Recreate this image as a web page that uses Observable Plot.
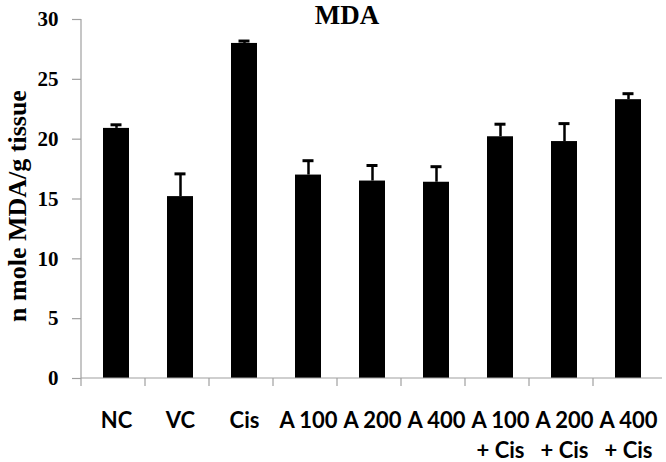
<!DOCTYPE html>
<html><head><meta charset="utf-8">
<script src="https://cdn.jsdelivr.net/npm/d3@7"></script>
<script src="https://cdn.jsdelivr.net/npm/@observablehq/plot@0.6"></script>
<style>body{margin:0;background:#fff}</style>
</head><body><div id="chart"></div>
<script>
const categories = ["NC","VC","Cis","A 100","A 200","A 400","A 100\n+ Cis","A 200\n+ Cis","A 400\n+ Cis"];
const means = [20.9, 15.2, 28.0, 17.0, 16.5, 16.4, 20.2, 19.8, 23.3];
const errors = [0.3, 1.9, 0.2, 1.2, 1.3, 1.3, 1.05, 1.5, 0.5];
const yTicks = [0, 5, 10, 15, 20, 25, 30];
const title = "MDA";
const yLabel = "n mole MDA/g tissue";

const data = categories.map((c, i) => ({group: c, mean: means[i], top: means[i] + errors[i]}));
const axisColor = "#a0a0a0";

function axisLines(index, scales, values, dims) {
  const x = scales.x, y = scales.y;
  const [r0, r1] = x.range();
  const step = x.step();
  const g = d3.create("svg:g").attr("stroke", axisColor).attr("stroke-width", 1.2);
  const y0 = y(0);
  g.append("line").attr("x1", r0).attr("x2", r1).attr("y1", y0).attr("y2", y0);
  g.append("line").attr("x1", r0).attr("x2", r0).attr("y1", y(yTicks[yTicks.length-1])).attr("y2", y0);
  categories.forEach((c, i) => {
    const bx = r0 + i * step;
    g.append("line").attr("x1", bx).attr("x2", bx).attr("y1", y0).attr("y2", y0 + 8);
  });
  return g.node();
}

const chart = Plot.plot({
  width: 666,
  height: 462,
  marginLeft: 81,
  marginRight: 4,
  marginTop: 19,
  marginBottom: 84,
  style: {background: "#fff"},
  x: {domain: categories, paddingInner: 0.6, paddingOuter: 0.3, label: null},
  y: {domain: [0, 30], label: null},
  marks: [
    Plot.barY(data, {x: "group", y: "mean", fill: "#000"}),
    Plot.ruleX(data, {x: "group", y1: "mean", y2: "top", stroke: "#000", strokeWidth: 2.5}),
    Plot.tickY(data, {x: "group", y: "top", stroke: "#000", strokeWidth: 3, inset: 7.5}),
    axisLines,
    Plot.axisY(yTicks, {tickSize: 9, tickPadding: 14, stroke: axisColor, strokeWidth: 1.2,
      fontSize: 21, fontWeight: "bold", fontFamily: "Liberation Serif", fill: "#000", label: null}),
    Plot.axisX({tickSize: 0, tickPadding: 28, fontSize: 22, fontWeight: "bold", fontFamily: "Lato",
      fill: "#000", lineHeight: 1.36, label: null}),
    Plot.text([title], {frameAnchor: "top", dx: -25, dy: -4, fontSize: 27, fontWeight: "bold",
      fontFamily: "Liberation Serif", fill: "#000", lineAnchor: "middle"}),
    Plot.text([yLabel], {frameAnchor: "left", textAnchor: "middle", rotate: -90, dx: -64, dy: 7, fontSize: 26, fontWeight: "bold",
      fontFamily: "Liberation Serif", fill: "#000", lineAnchor: "middle"})
  ]
});
document.getElementById("chart").append(chart);
</script>
</body></html>
